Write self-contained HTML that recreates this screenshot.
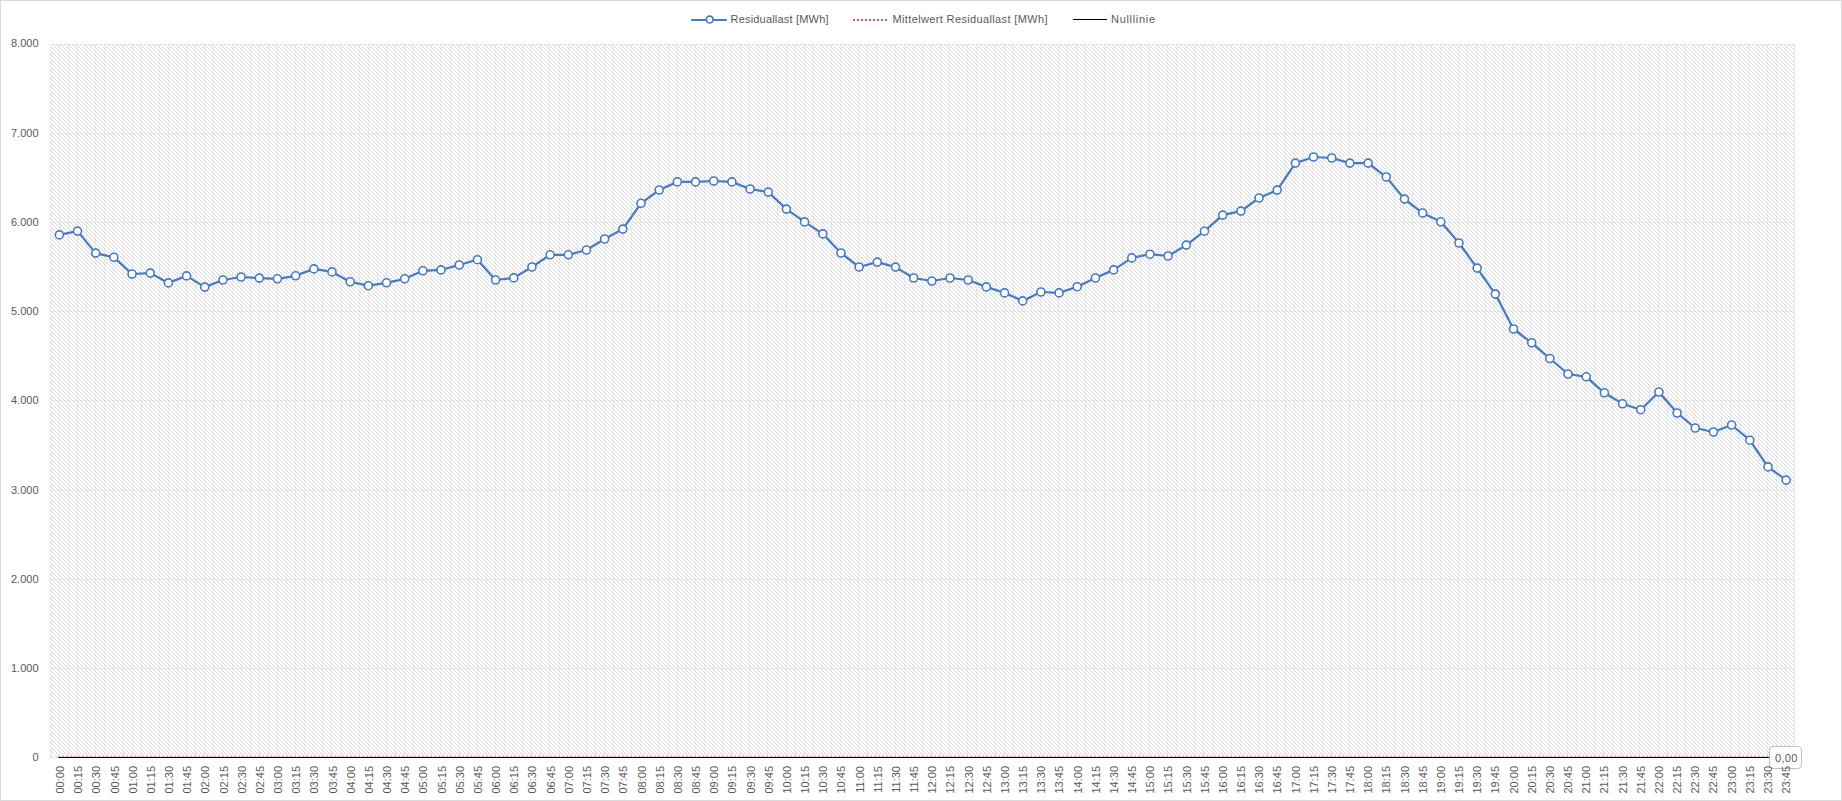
<!DOCTYPE html>
<html><head><meta charset="utf-8"><title>Residuallast</title>
<style>
html,body{margin:0;padding:0;background:#fff;}
body{width:1842px;height:801px;overflow:hidden;}
svg{display:block;}
.t{font-family:"Liberation Sans",Arial,sans-serif;font-size:11px;fill:#595959;}
.lg{font-family:"Liberation Sans",Arial,sans-serif;font-size:11px;fill:#595959;}
</style></head><body>
<svg width="1842" height="801" viewBox="0 0 1842 801">
<defs>
<pattern id="hatch" patternUnits="userSpaceOnUse" x="0" y="0" width="4" height="4">
<rect x="0" y="0" width="1" height="1" fill="#d9d9d9"/><rect x="1" y="1" width="1" height="1" fill="#d9d9d9"/><rect x="2" y="2" width="1" height="1" fill="#d9d9d9"/><rect x="3" y="3" width="1" height="1" fill="#d9d9d9"/>
</pattern>
</defs>
<rect x="0" y="0" width="1842" height="801" fill="#fff"/>
<rect x="0.5" y="0.5" width="1841" height="800" fill="none" stroke="#d9d9d9" stroke-width="1"/>
<path d="M50 44h1v714h-1z M59 44h1v714h-1z M68 44h1v714h-1z M77 44h1v714h-1z M86 44h1v714h-1z M95 44h1v714h-1z M104 44h1v714h-1z M113 44h1v714h-1z M123 44h1v714h-1z M132 44h1v714h-1z M141 44h1v714h-1z M150 44h1v714h-1z M159 44h1v714h-1z M168 44h1v714h-1z M177 44h1v714h-1z M186 44h1v714h-1z M195 44h1v714h-1z M204 44h1v714h-1z M213 44h1v714h-1z M222 44h1v714h-1z M232 44h1v714h-1z M241 44h1v714h-1z M250 44h1v714h-1z M259 44h1v714h-1z M268 44h1v714h-1z M277 44h1v714h-1z M286 44h1v714h-1z M295 44h1v714h-1z M304 44h1v714h-1z M313 44h1v714h-1z M322 44h1v714h-1z M331 44h1v714h-1z M341 44h1v714h-1z M350 44h1v714h-1z M359 44h1v714h-1z M368 44h1v714h-1z M377 44h1v714h-1z M386 44h1v714h-1z M395 44h1v714h-1z M404 44h1v714h-1z M413 44h1v714h-1z M422 44h1v714h-1z M431 44h1v714h-1z M440 44h1v714h-1z M450 44h1v714h-1z M459 44h1v714h-1z M468 44h1v714h-1z M477 44h1v714h-1z M486 44h1v714h-1z M495 44h1v714h-1z M504 44h1v714h-1z M513 44h1v714h-1z M522 44h1v714h-1z M531 44h1v714h-1z M540 44h1v714h-1z M549 44h1v714h-1z M559 44h1v714h-1z M568 44h1v714h-1z M577 44h1v714h-1z M586 44h1v714h-1z M595 44h1v714h-1z M604 44h1v714h-1z M613 44h1v714h-1z M622 44h1v714h-1z M631 44h1v714h-1z M640 44h1v714h-1z M649 44h1v714h-1z M658 44h1v714h-1z M668 44h1v714h-1z M677 44h1v714h-1z M686 44h1v714h-1z M695 44h1v714h-1z M704 44h1v714h-1z M713 44h1v714h-1z M722 44h1v714h-1z M731 44h1v714h-1z M740 44h1v714h-1z M749 44h1v714h-1z M758 44h1v714h-1z M767 44h1v714h-1z M777 44h1v714h-1z M786 44h1v714h-1z M795 44h1v714h-1z M804 44h1v714h-1z M813 44h1v714h-1z M822 44h1v714h-1z M831 44h1v714h-1z M840 44h1v714h-1z M849 44h1v714h-1z M858 44h1v714h-1z M867 44h1v714h-1z M876 44h1v714h-1z M886 44h1v714h-1z M895 44h1v714h-1z M904 44h1v714h-1z M913 44h1v714h-1z M922 44h1v714h-1z M931 44h1v714h-1z M940 44h1v714h-1z M949 44h1v714h-1z M958 44h1v714h-1z M967 44h1v714h-1z M976 44h1v714h-1z M985 44h1v714h-1z M995 44h1v714h-1z M1004 44h1v714h-1z M1013 44h1v714h-1z M1022 44h1v714h-1z M1031 44h1v714h-1z M1040 44h1v714h-1z M1049 44h1v714h-1z M1058 44h1v714h-1z M1067 44h1v714h-1z M1076 44h1v714h-1z M1085 44h1v714h-1z M1094 44h1v714h-1z M1104 44h1v714h-1z M1113 44h1v714h-1z M1122 44h1v714h-1z M1131 44h1v714h-1z M1140 44h1v714h-1z M1149 44h1v714h-1z M1158 44h1v714h-1z M1167 44h1v714h-1z M1176 44h1v714h-1z M1185 44h1v714h-1z M1194 44h1v714h-1z M1203 44h1v714h-1z M1213 44h1v714h-1z M1222 44h1v714h-1z M1231 44h1v714h-1z M1240 44h1v714h-1z M1249 44h1v714h-1z M1258 44h1v714h-1z M1267 44h1v714h-1z M1276 44h1v714h-1z M1285 44h1v714h-1z M1294 44h1v714h-1z M1303 44h1v714h-1z M1312 44h1v714h-1z M1322 44h1v714h-1z M1331 44h1v714h-1z M1340 44h1v714h-1z M1349 44h1v714h-1z M1358 44h1v714h-1z M1367 44h1v714h-1z M1376 44h1v714h-1z M1385 44h1v714h-1z M1394 44h1v714h-1z M1403 44h1v714h-1z M1412 44h1v714h-1z M1421 44h1v714h-1z M1431 44h1v714h-1z M1440 44h1v714h-1z M1449 44h1v714h-1z M1458 44h1v714h-1z M1467 44h1v714h-1z M1476 44h1v714h-1z M1485 44h1v714h-1z M1494 44h1v714h-1z M1503 44h1v714h-1z M1512 44h1v714h-1z M1521 44h1v714h-1z M1530 44h1v714h-1z M1540 44h1v714h-1z M1549 44h1v714h-1z M1558 44h1v714h-1z M1567 44h1v714h-1z M1576 44h1v714h-1z M1585 44h1v714h-1z M1594 44h1v714h-1z M1603 44h1v714h-1z M1612 44h1v714h-1z M1621 44h1v714h-1z M1630 44h1v714h-1z M1639 44h1v714h-1z M1649 44h1v714h-1z M1658 44h1v714h-1z M1667 44h1v714h-1z M1676 44h1v714h-1z M1685 44h1v714h-1z M1694 44h1v714h-1z M1703 44h1v714h-1z M1712 44h1v714h-1z M1721 44h1v714h-1z M1730 44h1v714h-1z M1739 44h1v714h-1z M1748 44h1v714h-1z M1758 44h1v714h-1z M1767 44h1v714h-1z M1776 44h1v714h-1z M1785 44h1v714h-1z M1794 44h1v714h-1z M50 757h1745v1h-1745z M50 668h1745v1h-1745z M50 579h1745v1h-1745z M50 490h1745v1h-1745z M50 400h1745v1h-1745z M50 311h1745v1h-1745z M50 222h1745v1h-1745z M50 133h1745v1h-1745z M50 44h1745v1h-1745z" fill="#ebebeb" shape-rendering="crispEdges"/>
<rect x="50" y="44" width="1745" height="714" fill="url(#hatch)" shape-rendering="crispEdges"/>
<text class="t" x="38.5" y="760.5" text-anchor="end">0</text>
<text class="t" x="38.5" y="671.5" text-anchor="end">1.000</text>
<text class="t" x="38.5" y="582.5" text-anchor="end">2.000</text>
<text class="t" x="38.5" y="493.5" text-anchor="end">3.000</text>
<text class="t" x="38.5" y="403.5" text-anchor="end">4.000</text>
<text class="t" x="38.5" y="314.5" text-anchor="end">5.000</text>
<text class="t" x="38.5" y="225.5" text-anchor="end">6.000</text>
<text class="t" x="38.5" y="136.5" text-anchor="end">7.000</text>
<text class="t" x="38.5" y="46.5" text-anchor="end">8.000</text>
<path d="M58 756h2v1h-2z M62 756h2v1h-2z M66 756h2v1h-2z M70 756h2v1h-2z M74 756h2v1h-2z M78 756h2v1h-2z M82 756h2v1h-2z M86 756h2v1h-2z M90 756h2v1h-2z M94 756h2v1h-2z M98 756h2v1h-2z M102 756h2v1h-2z M106 756h2v1h-2z M110 756h2v1h-2z M114 756h2v1h-2z M118 756h2v1h-2z M122 756h2v1h-2z M126 756h2v1h-2z M130 756h2v1h-2z M134 756h2v1h-2z M138 756h2v1h-2z M142 756h2v1h-2z M146 756h2v1h-2z M150 756h2v1h-2z M154 756h2v1h-2z M158 756h2v1h-2z M162 756h2v1h-2z M166 756h2v1h-2z M170 756h2v1h-2z M174 756h2v1h-2z M178 756h2v1h-2z M182 756h2v1h-2z M186 756h2v1h-2z M190 756h2v1h-2z M194 756h2v1h-2z M198 756h2v1h-2z M202 756h2v1h-2z M206 756h2v1h-2z M210 756h2v1h-2z M214 756h2v1h-2z M218 756h2v1h-2z M222 756h2v1h-2z M226 756h2v1h-2z M230 756h2v1h-2z M234 756h2v1h-2z M238 756h2v1h-2z M242 756h2v1h-2z M246 756h2v1h-2z M250 756h2v1h-2z M254 756h2v1h-2z M258 756h2v1h-2z M262 756h2v1h-2z M266 756h2v1h-2z M270 756h2v1h-2z M274 756h2v1h-2z M278 756h2v1h-2z M282 756h2v1h-2z M286 756h2v1h-2z M290 756h2v1h-2z M294 756h2v1h-2z M298 756h2v1h-2z M302 756h2v1h-2z M306 756h2v1h-2z M310 756h2v1h-2z M314 756h2v1h-2z M318 756h2v1h-2z M322 756h2v1h-2z M326 756h2v1h-2z M330 756h2v1h-2z M334 756h2v1h-2z M338 756h2v1h-2z M342 756h2v1h-2z M346 756h2v1h-2z M350 756h2v1h-2z M354 756h2v1h-2z M358 756h2v1h-2z M362 756h2v1h-2z M366 756h2v1h-2z M370 756h2v1h-2z M374 756h2v1h-2z M378 756h2v1h-2z M382 756h2v1h-2z M386 756h2v1h-2z M390 756h2v1h-2z M394 756h2v1h-2z M398 756h2v1h-2z M402 756h2v1h-2z M406 756h2v1h-2z M410 756h2v1h-2z M414 756h2v1h-2z M418 756h2v1h-2z M422 756h2v1h-2z M426 756h2v1h-2z M430 756h2v1h-2z M434 756h2v1h-2z M438 756h2v1h-2z M442 756h2v1h-2z M446 756h2v1h-2z M450 756h2v1h-2z M454 756h2v1h-2z M458 756h2v1h-2z M462 756h2v1h-2z M466 756h2v1h-2z M470 756h2v1h-2z M474 756h2v1h-2z M478 756h2v1h-2z M482 756h2v1h-2z M486 756h2v1h-2z M490 756h2v1h-2z M494 756h2v1h-2z M498 756h2v1h-2z M502 756h2v1h-2z M506 756h2v1h-2z M510 756h2v1h-2z M514 756h2v1h-2z M518 756h2v1h-2z M522 756h2v1h-2z M526 756h2v1h-2z M530 756h2v1h-2z M534 756h2v1h-2z M538 756h2v1h-2z M542 756h2v1h-2z M546 756h2v1h-2z M550 756h2v1h-2z M554 756h2v1h-2z M558 756h2v1h-2z M562 756h2v1h-2z M566 756h2v1h-2z M570 756h2v1h-2z M574 756h2v1h-2z M578 756h2v1h-2z M582 756h2v1h-2z M586 756h2v1h-2z M590 756h2v1h-2z M594 756h2v1h-2z M598 756h2v1h-2z M602 756h2v1h-2z M606 756h2v1h-2z M610 756h2v1h-2z M614 756h2v1h-2z M618 756h2v1h-2z M622 756h2v1h-2z M626 756h2v1h-2z M630 756h2v1h-2z M634 756h2v1h-2z M638 756h2v1h-2z M642 756h2v1h-2z M646 756h2v1h-2z M650 756h2v1h-2z M654 756h2v1h-2z M658 756h2v1h-2z M662 756h2v1h-2z M666 756h2v1h-2z M670 756h2v1h-2z M674 756h2v1h-2z M678 756h2v1h-2z M682 756h2v1h-2z M686 756h2v1h-2z M690 756h2v1h-2z M694 756h2v1h-2z M698 756h2v1h-2z M702 756h2v1h-2z M706 756h2v1h-2z M710 756h2v1h-2z M714 756h2v1h-2z M718 756h2v1h-2z M722 756h2v1h-2z M726 756h2v1h-2z M730 756h2v1h-2z M734 756h2v1h-2z M738 756h2v1h-2z M742 756h2v1h-2z M746 756h2v1h-2z M750 756h2v1h-2z M754 756h2v1h-2z M758 756h2v1h-2z M762 756h2v1h-2z M766 756h2v1h-2z M770 756h2v1h-2z M774 756h2v1h-2z M778 756h2v1h-2z M782 756h2v1h-2z M786 756h2v1h-2z M790 756h2v1h-2z M794 756h2v1h-2z M798 756h2v1h-2z M802 756h2v1h-2z M806 756h2v1h-2z M810 756h2v1h-2z M814 756h2v1h-2z M818 756h2v1h-2z M822 756h2v1h-2z M826 756h2v1h-2z M830 756h2v1h-2z M834 756h2v1h-2z M838 756h2v1h-2z M842 756h2v1h-2z M846 756h2v1h-2z M850 756h2v1h-2z M854 756h2v1h-2z M858 756h2v1h-2z M862 756h2v1h-2z M866 756h2v1h-2z M870 756h2v1h-2z M874 756h2v1h-2z M878 756h2v1h-2z M882 756h2v1h-2z M886 756h2v1h-2z M890 756h2v1h-2z M894 756h2v1h-2z M898 756h2v1h-2z M902 756h2v1h-2z M906 756h2v1h-2z M910 756h2v1h-2z M914 756h2v1h-2z M918 756h2v1h-2z M922 756h2v1h-2z M926 756h2v1h-2z M930 756h2v1h-2z M934 756h2v1h-2z M938 756h2v1h-2z M942 756h2v1h-2z M946 756h2v1h-2z M950 756h2v1h-2z M954 756h2v1h-2z M958 756h2v1h-2z M962 756h2v1h-2z M966 756h2v1h-2z M970 756h2v1h-2z M974 756h2v1h-2z M978 756h2v1h-2z M982 756h2v1h-2z M986 756h2v1h-2z M990 756h2v1h-2z M994 756h2v1h-2z M998 756h2v1h-2z M1002 756h2v1h-2z M1006 756h2v1h-2z M1010 756h2v1h-2z M1014 756h2v1h-2z M1018 756h2v1h-2z M1022 756h2v1h-2z M1026 756h2v1h-2z M1030 756h2v1h-2z M1034 756h2v1h-2z M1038 756h2v1h-2z M1042 756h2v1h-2z M1046 756h2v1h-2z M1050 756h2v1h-2z M1054 756h2v1h-2z M1058 756h2v1h-2z M1062 756h2v1h-2z M1066 756h2v1h-2z M1070 756h2v1h-2z M1074 756h2v1h-2z M1078 756h2v1h-2z M1082 756h2v1h-2z M1086 756h2v1h-2z M1090 756h2v1h-2z M1094 756h2v1h-2z M1098 756h2v1h-2z M1102 756h2v1h-2z M1106 756h2v1h-2z M1110 756h2v1h-2z M1114 756h2v1h-2z M1118 756h2v1h-2z M1122 756h2v1h-2z M1126 756h2v1h-2z M1130 756h2v1h-2z M1134 756h2v1h-2z M1138 756h2v1h-2z M1142 756h2v1h-2z M1146 756h2v1h-2z M1150 756h2v1h-2z M1154 756h2v1h-2z M1158 756h2v1h-2z M1162 756h2v1h-2z M1166 756h2v1h-2z M1170 756h2v1h-2z M1174 756h2v1h-2z M1178 756h2v1h-2z M1182 756h2v1h-2z M1186 756h2v1h-2z M1190 756h2v1h-2z M1194 756h2v1h-2z M1198 756h2v1h-2z M1202 756h2v1h-2z M1206 756h2v1h-2z M1210 756h2v1h-2z M1214 756h2v1h-2z M1218 756h2v1h-2z M1222 756h2v1h-2z M1226 756h2v1h-2z M1230 756h2v1h-2z M1234 756h2v1h-2z M1238 756h2v1h-2z M1242 756h2v1h-2z M1246 756h2v1h-2z M1250 756h2v1h-2z M1254 756h2v1h-2z M1258 756h2v1h-2z M1262 756h2v1h-2z M1266 756h2v1h-2z M1270 756h2v1h-2z M1274 756h2v1h-2z M1278 756h2v1h-2z M1282 756h2v1h-2z M1286 756h2v1h-2z M1290 756h2v1h-2z M1294 756h2v1h-2z M1298 756h2v1h-2z M1302 756h2v1h-2z M1306 756h2v1h-2z M1310 756h2v1h-2z M1314 756h2v1h-2z M1318 756h2v1h-2z M1322 756h2v1h-2z M1326 756h2v1h-2z M1330 756h2v1h-2z M1334 756h2v1h-2z M1338 756h2v1h-2z M1342 756h2v1h-2z M1346 756h2v1h-2z M1350 756h2v1h-2z M1354 756h2v1h-2z M1358 756h2v1h-2z M1362 756h2v1h-2z M1366 756h2v1h-2z M1370 756h2v1h-2z M1374 756h2v1h-2z M1378 756h2v1h-2z M1382 756h2v1h-2z M1386 756h2v1h-2z M1390 756h2v1h-2z M1394 756h2v1h-2z M1398 756h2v1h-2z M1402 756h2v1h-2z M1406 756h2v1h-2z M1410 756h2v1h-2z M1414 756h2v1h-2z M1418 756h2v1h-2z M1422 756h2v1h-2z M1426 756h2v1h-2z M1430 756h2v1h-2z M1434 756h2v1h-2z M1438 756h2v1h-2z M1442 756h2v1h-2z M1446 756h2v1h-2z M1450 756h2v1h-2z M1454 756h2v1h-2z M1458 756h2v1h-2z M1462 756h2v1h-2z M1466 756h2v1h-2z M1470 756h2v1h-2z M1474 756h2v1h-2z M1478 756h2v1h-2z M1482 756h2v1h-2z M1486 756h2v1h-2z M1490 756h2v1h-2z M1494 756h2v1h-2z M1498 756h2v1h-2z M1502 756h2v1h-2z M1506 756h2v1h-2z M1510 756h2v1h-2z M1514 756h2v1h-2z M1518 756h2v1h-2z M1522 756h2v1h-2z M1526 756h2v1h-2z M1530 756h2v1h-2z M1534 756h2v1h-2z M1538 756h2v1h-2z M1542 756h2v1h-2z M1546 756h2v1h-2z M1550 756h2v1h-2z M1554 756h2v1h-2z M1558 756h2v1h-2z M1562 756h2v1h-2z M1566 756h2v1h-2z M1570 756h2v1h-2z M1574 756h2v1h-2z M1578 756h2v1h-2z M1582 756h2v1h-2z M1586 756h2v1h-2z M1590 756h2v1h-2z M1594 756h2v1h-2z M1598 756h2v1h-2z M1602 756h2v1h-2z M1606 756h2v1h-2z M1610 756h2v1h-2z M1614 756h2v1h-2z M1618 756h2v1h-2z M1622 756h2v1h-2z M1626 756h2v1h-2z M1630 756h2v1h-2z M1634 756h2v1h-2z M1638 756h2v1h-2z M1642 756h2v1h-2z M1646 756h2v1h-2z M1650 756h2v1h-2z M1654 756h2v1h-2z M1658 756h2v1h-2z M1662 756h2v1h-2z M1666 756h2v1h-2z M1670 756h2v1h-2z M1674 756h2v1h-2z M1678 756h2v1h-2z M1682 756h2v1h-2z M1686 756h2v1h-2z M1690 756h2v1h-2z M1694 756h2v1h-2z M1698 756h2v1h-2z M1702 756h2v1h-2z M1706 756h2v1h-2z M1710 756h2v1h-2z M1714 756h2v1h-2z M1718 756h2v1h-2z M1722 756h2v1h-2z M1726 756h2v1h-2z M1730 756h2v1h-2z M1734 756h2v1h-2z M1738 756h2v1h-2z M1742 756h2v1h-2z M1746 756h2v1h-2z M1750 756h2v1h-2z M1754 756h2v1h-2z M1758 756h2v1h-2z M1762 756h2v1h-2z M1766 756h2v1h-2z" fill="#e3a09e" shape-rendering="crispEdges"/>
<rect x="58" y="757" width="1" height="1" fill="#c0504d" shape-rendering="crispEdges"/>
<rect x="59" y="757" width="1712" height="1" fill="#000" shape-rendering="crispEdges"/>
<polyline points="59.34,234.9 77.52,231.1 95.69,253.1 113.87,257.3 132.05,274.0 150.22,273.1 168.40,282.9 186.58,275.9 204.76,287.1 222.93,280.0 241.11,277.0 259.29,278.1 277.46,278.8 295.64,275.8 313.82,268.9 331.99,271.9 350.17,281.8 368.35,285.7 386.53,282.8 404.70,278.8 422.88,270.8 441.06,269.9 459.23,265.0 477.41,259.7 495.59,280.0 513.77,277.9 531.94,267.0 550.12,254.8 568.30,254.8 586.47,250.0 604.65,239.0 622.83,229.1 641.01,203.3 659.18,190.0 677.36,181.9 695.54,181.9 713.71,181.0 731.89,181.9 750.07,189.0 768.24,192.1 786.42,209.1 804.60,221.9 822.78,233.9 840.95,253.0 859.13,267.0 877.31,262.1 895.48,267.1 913.66,278.0 931.84,281.0 950.02,278.0 968.19,280.0 986.37,286.9 1004.55,292.9 1022.72,300.9 1040.90,292.0 1059.08,292.9 1077.26,286.7 1095.43,278.0 1113.61,269.9 1131.79,257.9 1149.96,254.2 1168.14,256.0 1186.32,245.1 1204.49,231.2 1222.67,215.1 1240.85,211.1 1259.03,198.0 1277.20,190.1 1295.38,163.1 1313.56,157.0 1331.73,158.0 1349.91,163.1 1368.09,163.1 1386.27,177.0 1404.44,199.1 1422.62,213.0 1440.80,221.8 1458.97,243.0 1477.15,268.1 1495.33,294.1 1513.51,329.0 1531.68,342.8 1549.86,358.5 1568.04,374.0 1586.21,376.8 1604.39,392.8 1622.57,403.8 1640.74,409.7 1658.92,392.0 1677.10,413.0 1695.28,428.0 1713.45,432.0 1731.63,425.0 1749.81,440.2 1767.98,466.9 1786.16,480.1" fill="none" stroke="#4a7bbb" stroke-width="2.25" stroke-linejoin="round"/>
<g fill="#fff" stroke="#4a7bbb" stroke-width="1.6">
<circle cx="59.34" cy="234.9" r="4.0"/><circle cx="77.52" cy="231.1" r="4.0"/><circle cx="95.69" cy="253.1" r="4.0"/><circle cx="113.87" cy="257.3" r="4.0"/><circle cx="132.05" cy="274.0" r="4.0"/><circle cx="150.22" cy="273.1" r="4.0"/><circle cx="168.40" cy="282.9" r="4.0"/><circle cx="186.58" cy="275.9" r="4.0"/><circle cx="204.76" cy="287.1" r="4.0"/><circle cx="222.93" cy="280.0" r="4.0"/><circle cx="241.11" cy="277.0" r="4.0"/><circle cx="259.29" cy="278.1" r="4.0"/><circle cx="277.46" cy="278.8" r="4.0"/><circle cx="295.64" cy="275.8" r="4.0"/><circle cx="313.82" cy="268.9" r="4.0"/><circle cx="331.99" cy="271.9" r="4.0"/><circle cx="350.17" cy="281.8" r="4.0"/><circle cx="368.35" cy="285.7" r="4.0"/><circle cx="386.53" cy="282.8" r="4.0"/><circle cx="404.70" cy="278.8" r="4.0"/><circle cx="422.88" cy="270.8" r="4.0"/><circle cx="441.06" cy="269.9" r="4.0"/><circle cx="459.23" cy="265.0" r="4.0"/><circle cx="477.41" cy="259.7" r="4.0"/><circle cx="495.59" cy="280.0" r="4.0"/><circle cx="513.77" cy="277.9" r="4.0"/><circle cx="531.94" cy="267.0" r="4.0"/><circle cx="550.12" cy="254.8" r="4.0"/><circle cx="568.30" cy="254.8" r="4.0"/><circle cx="586.47" cy="250.0" r="4.0"/><circle cx="604.65" cy="239.0" r="4.0"/><circle cx="622.83" cy="229.1" r="4.0"/><circle cx="641.01" cy="203.3" r="4.0"/><circle cx="659.18" cy="190.0" r="4.0"/><circle cx="677.36" cy="181.9" r="4.0"/><circle cx="695.54" cy="181.9" r="4.0"/><circle cx="713.71" cy="181.0" r="4.0"/><circle cx="731.89" cy="181.9" r="4.0"/><circle cx="750.07" cy="189.0" r="4.0"/><circle cx="768.24" cy="192.1" r="4.0"/><circle cx="786.42" cy="209.1" r="4.0"/><circle cx="804.60" cy="221.9" r="4.0"/><circle cx="822.78" cy="233.9" r="4.0"/><circle cx="840.95" cy="253.0" r="4.0"/><circle cx="859.13" cy="267.0" r="4.0"/><circle cx="877.31" cy="262.1" r="4.0"/><circle cx="895.48" cy="267.1" r="4.0"/><circle cx="913.66" cy="278.0" r="4.0"/><circle cx="931.84" cy="281.0" r="4.0"/><circle cx="950.02" cy="278.0" r="4.0"/><circle cx="968.19" cy="280.0" r="4.0"/><circle cx="986.37" cy="286.9" r="4.0"/><circle cx="1004.55" cy="292.9" r="4.0"/><circle cx="1022.72" cy="300.9" r="4.0"/><circle cx="1040.90" cy="292.0" r="4.0"/><circle cx="1059.08" cy="292.9" r="4.0"/><circle cx="1077.26" cy="286.7" r="4.0"/><circle cx="1095.43" cy="278.0" r="4.0"/><circle cx="1113.61" cy="269.9" r="4.0"/><circle cx="1131.79" cy="257.9" r="4.0"/><circle cx="1149.96" cy="254.2" r="4.0"/><circle cx="1168.14" cy="256.0" r="4.0"/><circle cx="1186.32" cy="245.1" r="4.0"/><circle cx="1204.49" cy="231.2" r="4.0"/><circle cx="1222.67" cy="215.1" r="4.0"/><circle cx="1240.85" cy="211.1" r="4.0"/><circle cx="1259.03" cy="198.0" r="4.0"/><circle cx="1277.20" cy="190.1" r="4.0"/><circle cx="1295.38" cy="163.1" r="4.0"/><circle cx="1313.56" cy="157.0" r="4.0"/><circle cx="1331.73" cy="158.0" r="4.0"/><circle cx="1349.91" cy="163.1" r="4.0"/><circle cx="1368.09" cy="163.1" r="4.0"/><circle cx="1386.27" cy="177.0" r="4.0"/><circle cx="1404.44" cy="199.1" r="4.0"/><circle cx="1422.62" cy="213.0" r="4.0"/><circle cx="1440.80" cy="221.8" r="4.0"/><circle cx="1458.97" cy="243.0" r="4.0"/><circle cx="1477.15" cy="268.1" r="4.0"/><circle cx="1495.33" cy="294.1" r="4.0"/><circle cx="1513.51" cy="329.0" r="4.0"/><circle cx="1531.68" cy="342.8" r="4.0"/><circle cx="1549.86" cy="358.5" r="4.0"/><circle cx="1568.04" cy="374.0" r="4.0"/><circle cx="1586.21" cy="376.8" r="4.0"/><circle cx="1604.39" cy="392.8" r="4.0"/><circle cx="1622.57" cy="403.8" r="4.0"/><circle cx="1640.74" cy="409.7" r="4.0"/><circle cx="1658.92" cy="392.0" r="4.0"/><circle cx="1677.10" cy="413.0" r="4.0"/><circle cx="1695.28" cy="428.0" r="4.0"/><circle cx="1713.45" cy="432.0" r="4.0"/><circle cx="1731.63" cy="425.0" r="4.0"/><circle cx="1749.81" cy="440.2" r="4.0"/><circle cx="1767.98" cy="466.9" r="4.0"/><circle cx="1786.16" cy="480.1" r="4.0"/>
</g>
<rect x="1769.5" y="746.5" width="32" height="22" rx="3.5" ry="3.5" fill="#fff" stroke="#bfbfbf" stroke-width="1"/>
<text class="t" x="1775" y="762" textLength="22.3" lengthAdjust="spacing">0,00</text>
<text class="t" transform="translate(64.10,766) rotate(-90)" text-anchor="end">00:00</text>
<text class="t" transform="translate(82.27,766) rotate(-90)" text-anchor="end">00:15</text>
<text class="t" transform="translate(100.44,766) rotate(-90)" text-anchor="end">00:30</text>
<text class="t" transform="translate(118.61,766) rotate(-90)" text-anchor="end">00:45</text>
<text class="t" transform="translate(136.77,766) rotate(-90)" text-anchor="end">01:00</text>
<text class="t" transform="translate(154.94,766) rotate(-90)" text-anchor="end">01:15</text>
<text class="t" transform="translate(173.11,766) rotate(-90)" text-anchor="end">01:30</text>
<text class="t" transform="translate(191.28,766) rotate(-90)" text-anchor="end">01:45</text>
<text class="t" transform="translate(209.45,766) rotate(-90)" text-anchor="end">02:00</text>
<text class="t" transform="translate(227.62,766) rotate(-90)" text-anchor="end">02:15</text>
<text class="t" transform="translate(245.79,766) rotate(-90)" text-anchor="end">02:30</text>
<text class="t" transform="translate(263.96,766) rotate(-90)" text-anchor="end">02:45</text>
<text class="t" transform="translate(282.12,766) rotate(-90)" text-anchor="end">03:00</text>
<text class="t" transform="translate(300.29,766) rotate(-90)" text-anchor="end">03:15</text>
<text class="t" transform="translate(318.46,766) rotate(-90)" text-anchor="end">03:30</text>
<text class="t" transform="translate(336.63,766) rotate(-90)" text-anchor="end">03:45</text>
<text class="t" transform="translate(354.80,766) rotate(-90)" text-anchor="end">04:00</text>
<text class="t" transform="translate(372.97,766) rotate(-90)" text-anchor="end">04:15</text>
<text class="t" transform="translate(391.14,766) rotate(-90)" text-anchor="end">04:30</text>
<text class="t" transform="translate(409.30,766) rotate(-90)" text-anchor="end">04:45</text>
<text class="t" transform="translate(427.47,766) rotate(-90)" text-anchor="end">05:00</text>
<text class="t" transform="translate(445.64,766) rotate(-90)" text-anchor="end">05:15</text>
<text class="t" transform="translate(463.81,766) rotate(-90)" text-anchor="end">05:30</text>
<text class="t" transform="translate(481.98,766) rotate(-90)" text-anchor="end">05:45</text>
<text class="t" transform="translate(500.15,766) rotate(-90)" text-anchor="end">06:00</text>
<text class="t" transform="translate(518.32,766) rotate(-90)" text-anchor="end">06:15</text>
<text class="t" transform="translate(536.49,766) rotate(-90)" text-anchor="end">06:30</text>
<text class="t" transform="translate(554.65,766) rotate(-90)" text-anchor="end">06:45</text>
<text class="t" transform="translate(572.82,766) rotate(-90)" text-anchor="end">07:00</text>
<text class="t" transform="translate(590.99,766) rotate(-90)" text-anchor="end">07:15</text>
<text class="t" transform="translate(609.16,766) rotate(-90)" text-anchor="end">07:30</text>
<text class="t" transform="translate(627.33,766) rotate(-90)" text-anchor="end">07:45</text>
<text class="t" transform="translate(645.50,766) rotate(-90)" text-anchor="end">08:00</text>
<text class="t" transform="translate(663.67,766) rotate(-90)" text-anchor="end">08:15</text>
<text class="t" transform="translate(681.84,766) rotate(-90)" text-anchor="end">08:30</text>
<text class="t" transform="translate(700.00,766) rotate(-90)" text-anchor="end">08:45</text>
<text class="t" transform="translate(718.17,766) rotate(-90)" text-anchor="end">09:00</text>
<text class="t" transform="translate(736.34,766) rotate(-90)" text-anchor="end">09:15</text>
<text class="t" transform="translate(754.51,766) rotate(-90)" text-anchor="end">09:30</text>
<text class="t" transform="translate(772.68,766) rotate(-90)" text-anchor="end">09:45</text>
<text class="t" transform="translate(790.85,766) rotate(-90)" text-anchor="end">10:00</text>
<text class="t" transform="translate(809.02,766) rotate(-90)" text-anchor="end">10:15</text>
<text class="t" transform="translate(827.18,766) rotate(-90)" text-anchor="end">10:30</text>
<text class="t" transform="translate(845.35,766) rotate(-90)" text-anchor="end">10:45</text>
<text class="t" transform="translate(863.52,766) rotate(-90)" text-anchor="end">11:00</text>
<text class="t" transform="translate(881.69,766) rotate(-90)" text-anchor="end">11:15</text>
<text class="t" transform="translate(899.86,766) rotate(-90)" text-anchor="end">11:30</text>
<text class="t" transform="translate(918.03,766) rotate(-90)" text-anchor="end">11:45</text>
<text class="t" transform="translate(936.20,766) rotate(-90)" text-anchor="end">12:00</text>
<text class="t" transform="translate(954.37,766) rotate(-90)" text-anchor="end">12:15</text>
<text class="t" transform="translate(972.53,766) rotate(-90)" text-anchor="end">12:30</text>
<text class="t" transform="translate(990.70,766) rotate(-90)" text-anchor="end">12:45</text>
<text class="t" transform="translate(1008.87,766) rotate(-90)" text-anchor="end">13:00</text>
<text class="t" transform="translate(1027.04,766) rotate(-90)" text-anchor="end">13:15</text>
<text class="t" transform="translate(1045.21,766) rotate(-90)" text-anchor="end">13:30</text>
<text class="t" transform="translate(1063.38,766) rotate(-90)" text-anchor="end">13:45</text>
<text class="t" transform="translate(1081.55,766) rotate(-90)" text-anchor="end">14:00</text>
<text class="t" transform="translate(1099.71,766) rotate(-90)" text-anchor="end">14:15</text>
<text class="t" transform="translate(1117.88,766) rotate(-90)" text-anchor="end">14:30</text>
<text class="t" transform="translate(1136.05,766) rotate(-90)" text-anchor="end">14:45</text>
<text class="t" transform="translate(1154.22,766) rotate(-90)" text-anchor="end">15:00</text>
<text class="t" transform="translate(1172.39,766) rotate(-90)" text-anchor="end">15:15</text>
<text class="t" transform="translate(1190.56,766) rotate(-90)" text-anchor="end">15:30</text>
<text class="t" transform="translate(1208.73,766) rotate(-90)" text-anchor="end">15:45</text>
<text class="t" transform="translate(1226.90,766) rotate(-90)" text-anchor="end">16:00</text>
<text class="t" transform="translate(1245.06,766) rotate(-90)" text-anchor="end">16:15</text>
<text class="t" transform="translate(1263.23,766) rotate(-90)" text-anchor="end">16:30</text>
<text class="t" transform="translate(1281.40,766) rotate(-90)" text-anchor="end">16:45</text>
<text class="t" transform="translate(1299.57,766) rotate(-90)" text-anchor="end">17:00</text>
<text class="t" transform="translate(1317.74,766) rotate(-90)" text-anchor="end">17:15</text>
<text class="t" transform="translate(1335.91,766) rotate(-90)" text-anchor="end">17:30</text>
<text class="t" transform="translate(1354.08,766) rotate(-90)" text-anchor="end">17:45</text>
<text class="t" transform="translate(1372.25,766) rotate(-90)" text-anchor="end">18:00</text>
<text class="t" transform="translate(1390.41,766) rotate(-90)" text-anchor="end">18:15</text>
<text class="t" transform="translate(1408.58,766) rotate(-90)" text-anchor="end">18:30</text>
<text class="t" transform="translate(1426.75,766) rotate(-90)" text-anchor="end">18:45</text>
<text class="t" transform="translate(1444.92,766) rotate(-90)" text-anchor="end">19:00</text>
<text class="t" transform="translate(1463.09,766) rotate(-90)" text-anchor="end">19:15</text>
<text class="t" transform="translate(1481.26,766) rotate(-90)" text-anchor="end">19:30</text>
<text class="t" transform="translate(1499.43,766) rotate(-90)" text-anchor="end">19:45</text>
<text class="t" transform="translate(1517.59,766) rotate(-90)" text-anchor="end">20:00</text>
<text class="t" transform="translate(1535.76,766) rotate(-90)" text-anchor="end">20:15</text>
<text class="t" transform="translate(1553.93,766) rotate(-90)" text-anchor="end">20:30</text>
<text class="t" transform="translate(1572.10,766) rotate(-90)" text-anchor="end">20:45</text>
<text class="t" transform="translate(1590.27,766) rotate(-90)" text-anchor="end">21:00</text>
<text class="t" transform="translate(1608.44,766) rotate(-90)" text-anchor="end">21:15</text>
<text class="t" transform="translate(1626.61,766) rotate(-90)" text-anchor="end">21:30</text>
<text class="t" transform="translate(1644.78,766) rotate(-90)" text-anchor="end">21:45</text>
<text class="t" transform="translate(1662.94,766) rotate(-90)" text-anchor="end">22:00</text>
<text class="t" transform="translate(1681.11,766) rotate(-90)" text-anchor="end">22:15</text>
<text class="t" transform="translate(1699.28,766) rotate(-90)" text-anchor="end">22:30</text>
<text class="t" transform="translate(1717.45,766) rotate(-90)" text-anchor="end">22:45</text>
<text class="t" transform="translate(1735.62,766) rotate(-90)" text-anchor="end">23:00</text>
<text class="t" transform="translate(1753.79,766) rotate(-90)" text-anchor="end">23:15</text>
<text class="t" transform="translate(1771.96,766) rotate(-90)" text-anchor="end">23:30</text>
<text class="t" transform="translate(1790.12,766) rotate(-90)" text-anchor="end">23:45</text>
<line x1="692" y1="20" x2="726" y2="20" stroke="#4a7bbb" stroke-width="2" stroke-linecap="round"/>
<circle cx="709.7" cy="19.6" r="3.4" fill="#fff" stroke="#4a7bbb" stroke-width="1.7"/>
<text class="lg" x="730.5" y="23" textLength="98" lengthAdjust="spacing">Residuallast [MWh]</text>
<path d="M853 19h2v2h-2z M857 19h2v2h-2z M861 19h2v2h-2z M865 19h2v2h-2z M869 19h2v2h-2z M873 19h2v2h-2z M877 19h2v2h-2z M881 19h2v2h-2z M885 19h2v2h-2z" fill="#c86461" shape-rendering="crispEdges"/>
<text class="lg" x="892.5" y="23" textLength="155" lengthAdjust="spacing">Mittelwert Residuallast [MWh]</text>
<rect x="1073" y="19" width="34" height="1" fill="#000" shape-rendering="crispEdges"/>
<text class="lg" x="1111" y="23" textLength="44" lengthAdjust="spacing">Nulllinie</text>
</svg>
</body></html>
